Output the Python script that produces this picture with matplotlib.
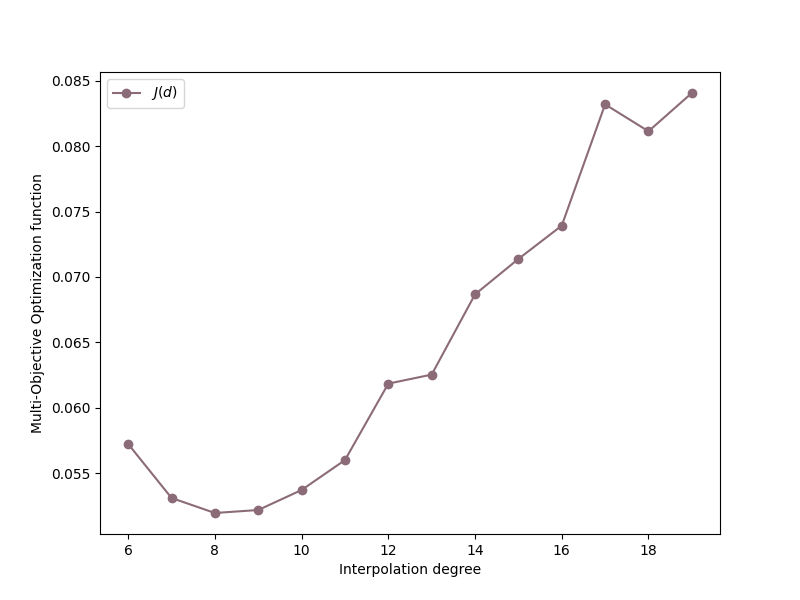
import matplotlib
matplotlib.use("Agg")
import matplotlib.pyplot as plt

degrees = [6, 7, 8, 9, 10, 11, 12, 13, 14, 15, 16, 17, 18, 19]
j_values = [0.05722, 0.05309, 0.05194, 0.05217, 0.05370, 0.05599, 0.06184,
            0.06253, 0.06867, 0.07138, 0.07393, 0.08321, 0.08115, 0.08408]

fig, ax = plt.subplots(figsize=(8, 6), dpi=100)
ax.plot(degrees, j_values, marker='o', color='#8c6b78', label=r'$J(d)$')
ax.set_xlabel('Interpolation degree')
ax.set_ylabel('Multi-Objective Optimization function')
ax.legend(loc='upper left')

fig.savefig('out.png')
